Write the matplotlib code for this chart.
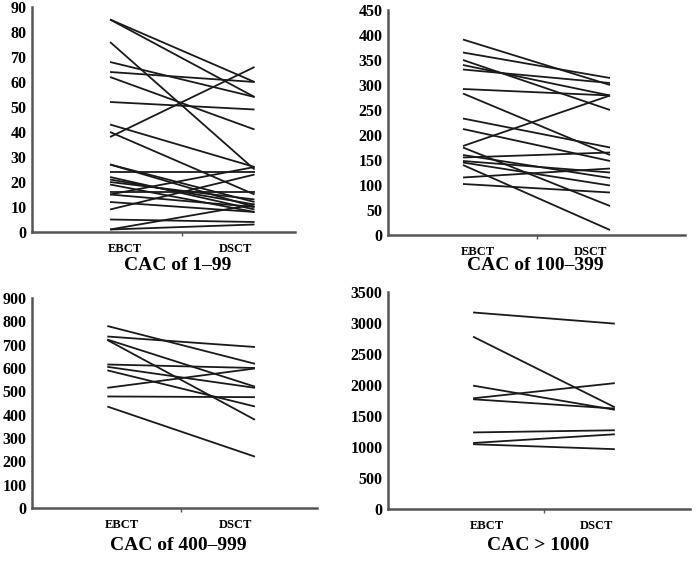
import matplotlib
matplotlib.use('Agg')
import matplotlib.pyplot as plt

CATEGORIES = ['EBCT', 'DSCT']

# CAC of 1-99
p1_ebct = [85, 85, 76, 68, 64, 62, 52, 43, 40, 38, 27, 27, 24, 22, 21, 20, 19, 16, 15, 15, 12, 9, 5, 1, 1]
p1_dsct = [60, 54, 25, 54, 60, 41, 49, 26, 15, 66, 10, 12, 24, 9, 11, 13, 8, 16, 26, 10, 8, 23, 4, 11, 3]
p1_ticks = list(range(0, 91, 10))

# CAC of 100-399
p2_ebct = [391, 365, 350, 340, 331, 292, 283, 233, 212, 178, 175, 160, 155, 148, 145, 140, 115, 102]
p2_dsct = [300, 314, 250, 279, 304, 279, 160, 175, 148, 279, 58, 114, 165, 125, 99, 10, 133, 85]
p2_ticks = list(range(0, 451, 50))

# CAC of 400-999
p3_ebct = [780, 735, 722, 720, 615, 605, 590, 515, 478, 435]
p3_dsct = [618, 690, 520, 378, 600, 515, 435, 598, 475, 220]
p3_ticks = list(range(0, 901, 100))

# CAC > 1000
p4_ebct = [3170, 2780, 1990, 1785, 1770, 1235, 1065, 1045]
p4_dsct = [2990, 1640, 1600, 2030, 1620, 1270, 1205, 965]
p4_ticks = list(range(0, 3501, 500))

TITLES = ['CAC of 1\u201399', 'CAC of 100\u2013399', 'CAC of 400\u2013999', 'CAC > 1000']

plt.rcParams['font.family'] = ['Liberation Serif', 'DejaVu Serif']

W, H = 697, 562
fig = plt.figure(figsize=(W / 100, H / 100), dpi=100)


def px_axes(x0, x1, ytop, ybot):
    return fig.add_axes([x0 / W, 1 - ybot / H, (x1 - x0) / W, (ybot - ytop) / H])


def draw_panel(ax, ebct, dsct, ticks, xlim, title, title_xy):
    for a, b in zip(ebct, dsct):
        ax.plot([0, 1], [a, b], color='#1a1a1a', lw=1.3, solid_capstyle='butt')
    ax.set_xlim(*xlim)
    ax.set_ylim(ticks[0], ticks[-1])
    ax.set_yticks(ticks)
    ax.set_yticklabels([str(t) for t in ticks], fontweight='bold', fontsize=11.5)
    ax.tick_params(axis='y', length=0, pad=4)
    ax.set_xticks([0.5])
    ax.set_xticklabels([''])
    ax.tick_params(axis='x', length=3, width=1, color='#555')
    for s in ['top', 'right']:
        ax.spines[s].set_visible(False)
    for s in ['left', 'bottom']:
        ax.spines[s].set_color('#555')
        ax.spines[s].set_linewidth(1.8)
    ax.spines['left'].set_zorder(0)
    # category labels
    for xpos, lab in zip([0.1, 0.87], CATEGORIES):
        ax.annotate(lab, xy=(xpos, 0), xycoords=('data', 'axes fraction'),
                    xytext=(0, -8), textcoords='offset points',
                    ha='center', va='top', fontweight='bold', fontsize=9)
    fig.text(title_xy[0] / W, 1 - title_xy[1] / H, title, ha='center', va='center',
             fontweight='bold', fontsize=14)


ax1 = px_axes(32, 295, 7, 232)
draw_panel(ax1, p1_ebct, p1_dsct, p1_ticks, (-0.54, 1.28), TITLES[0], (178, 266))

ax2 = px_axes(388, 685, 10, 235)
draw_panel(ax2, p2_ebct, p2_dsct, p2_ticks, (-0.51, 1.51), TITLES[1], (535, 266))

ax3 = px_axes(32, 317, 298, 508)
draw_panel(ax3, p3_ebct, p3_dsct, p3_ticks, (-0.51, 1.42), TITLES[2], (178, 546))

ax4 = px_axes(388, 690, 292, 509)
draw_panel(ax4, p4_ebct, p4_dsct, p4_ticks, (-0.6, 1.53), TITLES[3], (538, 546))

fig.savefig('out.png', dpi=100)
